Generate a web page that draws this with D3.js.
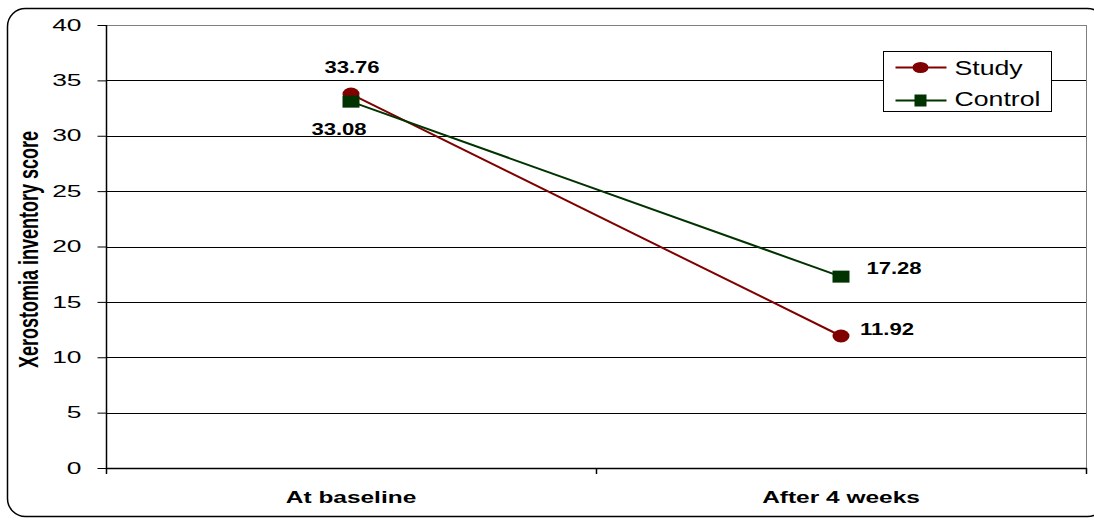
<!DOCTYPE html>
<html>
<head>
<meta charset="utf-8">
<script src="https://cdn.jsdelivr.net/npm/d3@7"></script>
<style>
  html, body { margin: 0; padding: 0; background: #fff; }
  svg { display: block; }
</style>
</head>
<body>
<svg id="chart" width="1094" height="524"></svg>
<script>
const categories = ["At baseline", "After 4 weeks"];
const studyValues = [33.76, 11.92];
const controlValues = [33.08, 17.28];
const yTicks = [0, 5, 10, 15, 20, 25, 30, 35, 40];
const seriesNames = ["Study", "Control"];

const plot = { left: 106, right: 1086, top: 25, bottom: 468 };
const svg = d3.select("#chart");
const font = "'Liberation Sans', Arial, Helvetica, sans-serif";

// widen text horizontally about its anchor x
function stretchX(sel, s) {
  sel.each(function () {
    const x = +this.getAttribute("x") || 0;
    this.setAttribute("transform", `matrix(${s},0,0,1,${x * (1 - s)},0)`);
  });
}

// outer rounded frame
svg.append("rect")
  .attr("x", 7.5).attr("y", 8.5).attr("width", 1098).attr("height", 508)
  .attr("rx", 18).attr("fill", "none").attr("stroke", "#000").attr("stroke-width", 1.5);

const x = d3.scaleBand().domain(categories).range([plot.left, plot.right]);
const y = d3.scaleLinear().domain([0, 40]).range([plot.bottom, plot.top]);

// horizontal gridlines
svg.append("g").selectAll("line").data(yTicks.filter(d => d > 0)).join("line")
  .attr("x1", plot.left).attr("x2", plot.right)
  .attr("y1", d => Math.round(y(d)) + 0.5).attr("y2", d => Math.round(y(d)) + 0.5)
  .attr("stroke", d => d === 40 ? "#808080" : "#000").attr("stroke-width", 1);

// right border of plot area
svg.append("line")
  .attr("x1", plot.right + 0.5).attr("x2", plot.right + 0.5)
  .attr("y1", plot.top).attr("y2", plot.bottom)
  .attr("stroke", "#808080");

// y axis
const yAxis = svg.append("g")
  .attr("transform", `translate(${plot.left + 0.5},0)`)
  .call(d3.axisLeft(y).tickValues(yTicks).tickSize(9).tickPadding(16).tickFormat(d3.format("d")));
yAxis.select(".domain").attr("stroke", "#000").attr("stroke-width", 1.5)
  .attr("d", `M0,${plot.top}V${plot.bottom + 6}`);
yAxis.selectAll(".tick line").attr("stroke", "#000");
yAxis.selectAll(".tick text")
  .attr("font-family", font).attr("font-size", 16).attr("fill", "#000")
  .call(stretchX, 1.65);

// x axis
const xAxis = svg.append("g")
  .attr("transform", `translate(0,${Math.round(y(0)) + 0.5})`)
  .call(d3.axisBottom(x).tickSize(0).tickPadding(23));
xAxis.select(".domain").attr("stroke", "#000").attr("stroke-width", 1.5)
  .attr("d", `M${plot.left},0H${plot.right + 1}`);
xAxis.selectAll(".tick text")
  .attr("font-family", font).attr("font-weight", "bold").attr("font-size", 16).attr("fill", "#000")
  .call(stretchX, 1.53);
// tick marks between categories
const bounds = [plot.left + x.bandwidth(), plot.right];
svg.append("g").selectAll("line").data(bounds).join("line")
  .attr("x1", d => Math.round(d) + 0.5).attr("x2", d => Math.round(d) + 0.5)
  .attr("y1", y(0)).attr("y2", y(0) + 6)
  .attr("stroke", "#000").attr("stroke-width", 1.5);

// y axis title
svg.append("text")
  .attr("transform", `translate(38,${(plot.top + plot.bottom) / 2 + 3}) rotate(-90) scale(1,1.55)`)
  .attr("text-anchor", "middle")
  .attr("font-family", font)
  .attr("font-weight", "bold").attr("font-size", 18)
  .text("Xerostomia inventory score");

const cx = d => x(d) + x.bandwidth() / 2;
const studyColor = "#800000", controlColor = "#003300";

const line = d3.line().x((d, i) => cx(categories[i])).y(d => y(d));

// series lines
svg.append("path").datum(studyValues).attr("d", line)
  .attr("fill", "none").attr("stroke", studyColor).attr("stroke-width", 2);
svg.append("path").datum(controlValues).attr("d", line)
  .attr("fill", "none").attr("stroke", controlColor).attr("stroke-width", 2);

// markers
svg.append("g").selectAll("ellipse").data(studyValues).join("ellipse")
  .attr("cx", (d, i) => cx(categories[i])).attr("cy", d => y(d)).attr("rx", 8.5).attr("ry", 6.5)
  .attr("fill", studyColor);
svg.append("g").selectAll("rect").data(controlValues).join("rect")
  .attr("x", (d, i) => cx(categories[i]) - 8.5).attr("y", d => y(d) - 6)
  .attr("width", 17).attr("height", 12).attr("fill", controlColor);

// value labels
const studyOffsets = [[1, -21.5], [46, -0.5]];
const controlOffsets = [[-12, 33], [53, -2.5]];
svg.append("g").selectAll("text").data(studyValues).join("text")
  .attr("x", (d, i) => cx(categories[i]) + studyOffsets[i][0])
  .attr("y", (d, i) => y(d) + studyOffsets[i][1])
  .attr("text-anchor", "middle").attr("font-family", font)
  .attr("font-weight", "bold").attr("font-size", 16).text(d => d.toFixed(2))
  .call(stretchX, 1.38);
svg.append("g").selectAll("text").data(controlValues).join("text")
  .attr("x", (d, i) => cx(categories[i]) + controlOffsets[i][0])
  .attr("y", (d, i) => y(d) + controlOffsets[i][1])
  .attr("text-anchor", "middle").attr("font-family", font)
  .attr("font-weight", "bold").attr("font-size", 16).text(d => d.toFixed(2))
  .call(stretchX, 1.38);

// legend
const lg = svg.append("g").attr("transform", "translate(883.5,51.5)");
lg.append("rect").attr("width", 168).attr("height", 60)
  .attr("fill", "#fff").attr("stroke", "#000").attr("stroke-width", 1);
const legendItems = [
  { name: seriesNames[0], color: studyColor, shape: "circle", dy: 7.5 },
  { name: seriesNames[1], color: controlColor, shape: "square", dy: 5.5 }
];
legendItems.forEach((it, i) => {
  const gy = 16 + i * 33;
  lg.append("line").attr("x1", 12).attr("x2", 63).attr("y1", gy).attr("y2", gy)
    .attr("stroke", it.color).attr("stroke-width", 2);
  if (it.shape === "circle") {
    lg.append("ellipse").attr("cx", 37).attr("cy", gy).attr("rx", 8).attr("ry", 5.5).attr("fill", it.color);
  } else {
    lg.append("rect").attr("x", 31).attr("y", gy - 6).attr("width", 12).attr("height", 12).attr("fill", it.color);
  }
  lg.append("text").attr("x", 71).attr("y", gy + it.dy)
    .attr("font-family", font).attr("font-size", 21).text(it.name)
    .call(stretchX, 1.27);
});
</script>
</body>
</html>
